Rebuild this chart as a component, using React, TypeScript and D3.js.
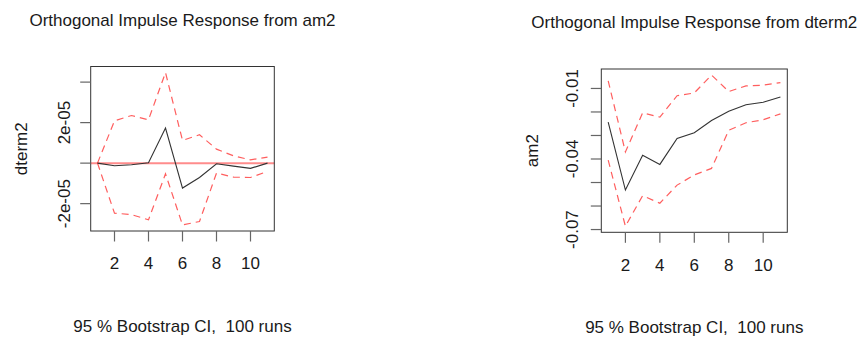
import React from "react";
import * as d3 from "d3";

const steps = [1, 2, 3, 4, 5, 6, 7, 8, 9, 10, 11];

// Panel 1: response of dterm2 to am2 (units of 1e-05)
const irf1 = [0, -0.13, -0.08, 0.02, 1.73, -1.23, -0.71, -0.03, -0.15, -0.26, 0].map((v) => v * 1e-5);
const upper1 = [0, 2.09, 2.35, 2.14, 4.47, 1.12, 1.4, 0.69, 0.36, 0.16, 0.3].map((v) => v * 1e-5);
const lower1 = [0, -2.47, -2.54, -2.8, -0.53, -3.05, -2.88, -0.49, -0.69, -0.71, -0.41].map((v) => v * 1e-5);
const yTicks1 = [4e-5, 2e-5, 0, -2e-5];
const yTickLabels1 = ["", "2e-05", "", "-2e-05"];

// Panel 2: response of am2 to dterm2
const irf2 = [-0.0243, -0.0532, -0.0384, -0.0423, -0.0313, -0.0288, -0.0236, -0.0197, -0.0169, -0.0159, -0.0136];
const upper2 = [-0.0068, -0.037, -0.0204, -0.0222, -0.0131, -0.0119, -0.0043, -0.0113, -0.0089, -0.0086, -0.0075];
const lower2 = [-0.0405, -0.0686, -0.0556, -0.0588, -0.0511, -0.0468, -0.044, -0.0278, -0.0246, -0.0233, -0.0208];
const yTicks2 = [-0.01, -0.02, -0.03, -0.04, -0.05, -0.06, -0.07];
const yTickLabels2 = ["-0.01", "", "", "-0.04", "", "", "-0.07"];

const xTicks = [2, 4, 6, 8, 10];

const titles = ["Orthogonal Impulse Response from am2", "Orthogonal Impulse Response from dterm2"];
const yLabels = ["dterm2", "am2"];
const subtitle = "95 % Bootstrap CI,  100 runs";

const FONT = "'Liberation Sans', Arial, sans-serif";

type PanelProps = {
  box: { x0: number; x1: number; y0: number; y1: number };
  irf: number[];
  upper: number[];
  lower: number[];
  yTicks: number[];
  yTickLabels: string[];
  title: string;
  yLabel: string;
  zeroLine: boolean;
  yLabelX: number;
  tickLabelX: number;
};

function pad(ext: [number, number]): [number, number] {
  const r = ext[1] - ext[0];
  return [ext[0] - 0.04 * r, ext[1] + 0.04 * r];
}

function Panel(p: PanelProps) {
  const { box } = p;
  const x = d3.scaleLinear().domain(pad([1, 11])).range([box.x0, box.x1]);
  const all = [...p.irf, ...p.upper, ...p.lower];
  const y = d3
    .scaleLinear()
    .domain(pad(d3.extent(all) as [number, number]))
    .range([box.y1, box.y0]);
  const line = d3
    .line<number>()
    .x((_, i) => x(steps[i]))
    .y((d) => y(d));
  const cx = (box.x0 + box.x1) / 2;
  const cy = (box.y0 + box.y1) / 2;
  const tickLen = 10.5;
  return (
    <g fontFamily={FONT} fill="#1a1a1a">
      <text x={cx} y={box.y0 - 41} textAnchor="middle" fontSize={17}>
        {p.title}
      </text>
      <text x={cx} y={box.y1 + 100.5} textAnchor="middle" fontSize={17} style={{ whiteSpace: "pre" }}>
        {subtitle}
      </text>
      <text
        transform={`translate(${p.yLabelX},${cy}) rotate(-90)`}
        textAnchor="middle"
        fontSize={17}
      >
        {p.yLabel}
      </text>
      {p.zeroLine && (
        <line
          x1={box.x0}
          x2={box.x1}
          y1={y(0)}
          y2={y(0)}
          stroke="rgba(255,0,0,0.45)"
          strokeWidth={2}
        />
      )}
      <path d={line(p.upper) || ""} fill="none" stroke="rgba(255,40,40,0.75)" strokeWidth={1.2} strokeDasharray="7,5" />
      <path d={line(p.lower) || ""} fill="none" stroke="rgba(255,40,40,0.75)" strokeWidth={1.2} strokeDasharray="7,5" />
      <path d={line(p.irf) || ""} fill="none" stroke="#333" strokeWidth={1.1} />
      <rect
        x={box.x0}
        y={box.y0}
        width={box.x1 - box.x0}
        height={box.y1 - box.y0}
        fill="none"
        stroke="#333"
        strokeWidth={1}
      />
      {xTicks.map((t) => (
        <g key={t}>
          <line x1={x(t)} x2={x(t)} y1={box.y1} y2={box.y1 + tickLen} stroke="#666" strokeWidth={1.2} />
          <text x={x(t)} y={box.y1 + 38.3} textAnchor="middle" fontSize={17}>
            {t}
          </text>
        </g>
      ))}
      {p.yTicks.map((t, i) => (
        <g key={i}>
          <line x1={box.x0 - tickLen} x2={box.x0} y1={y(t)} y2={y(t)} stroke="#666" strokeWidth={1.2} />
          {p.yTickLabels[i] && (
            <text
              transform={`translate(${p.tickLabelX},${y(t)}) rotate(-90)`}
              textAnchor="middle"
              fontSize={17}
            >
              {p.yTickLabels[i]}
            </text>
          )}
        </g>
      ))}
    </g>
  );
}

export default function App() {
  return (
    <svg
      width={863}
      height={338}
      style={{ position: "absolute", left: 0, top: 0, background: "#fff" }}
    >
      <rect width={863} height={338} fill="#fff" />
      <Panel
        box={{ x0: 90.7, x1: 274.3, y0: 66.5, y1: 231 }}
        irf={irf1}
        upper={upper1}
        lower={lower1}
        yTicks={yTicks1}
        yTickLabels={yTickLabels1}
        title={titles[0]}
        yLabel={yLabels[0]}
        zeroLine={true}
        yLabelX={27}
        tickLabelX={70}
      />
      <Panel
        box={{ x0: 601.3, x1: 787.3, y0: 69, y1: 232.3 }}
        irf={irf2}
        upper={upper2}
        lower={lower2}
        yTicks={yTicks2}
        yTickLabels={yTickLabels2}
        title={titles[1]}
        yLabel={yLabels[1]}
        zeroLine={false}
        yLabelX={538}
        tickLabelX={578}
      />
    </svg>
  );
}
